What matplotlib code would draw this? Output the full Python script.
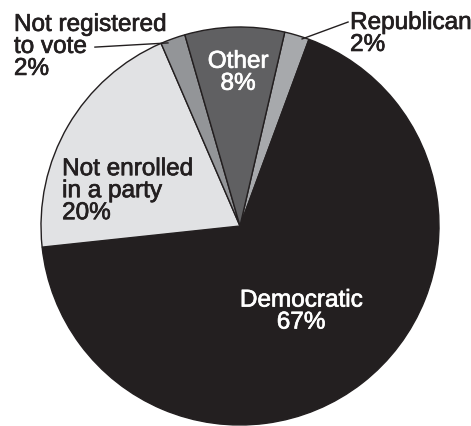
import matplotlib.pyplot as plt
import matplotlib.patheffects as pe

plt.rcParams['font.family'] = ['Liberation Sans', 'DejaVu Sans']

# party registration shares, clockwise from the top
labels = ["Republican", "Democratic", "Not enrolled\nin a party", "Not registered\nto vote", "Other"]
shares = [2, 67, 20, 2, 8]
colors = ["#a7a9ac", "#231f20", "#e1e2e4", "#939598", "#606062"]

fig = plt.figure(figsize=(4.71, 4.27), dpi=100)
cx, cy, r = 240, 227, 199
ax = fig.add_axes([(cx - r) / 471, (427 - cy - r) / 427, 2 * r / 471, 2 * r / 427])

ax.pie(shares, colors=colors, startangle=77, counterclock=False, radius=1,
       wedgeprops=dict(edgecolor="#231f20", linewidth=1))
ax.set_xlim(-1, 1)
ax.set_ylim(-1, 1)
ax.set_aspect("equal")
ax.axis("off")

fs = 17.5
ls = 1.0

def lab(i):
    return "{}\n{}%".format(labels[i], shares[i])

def put(x, y, i, color, ha):
    t = ax.text(x, y, lab(i), color=color, fontsize=fs, ha=ha, va="center", linespacing=ls)
    # slightly heavier strokes than the regular weight
    t.set_path_effects([pe.withStroke(linewidth=0.5, foreground=color)])

put(0.307, -0.43, 1, "white", "center")
put(-0.01, 0.77, 4, "white", "center")
put(-0.894, 0.175, 2, "#231f20", "left")
put(-1.136, 0.9, 3, "#231f20", "left")
put(0.553, 0.965, 0, "#231f20", "left")

# leader lines for the two thin slices
ax.plot([-0.729, -0.362], [0.899, 0.92], color="#231f20", lw=1, clip_on=False)
ax.plot([0.543, 0.312], [1.025, 0.94], color="#231f20", lw=1, clip_on=False)

fig.savefig("out.png", dpi=100)
